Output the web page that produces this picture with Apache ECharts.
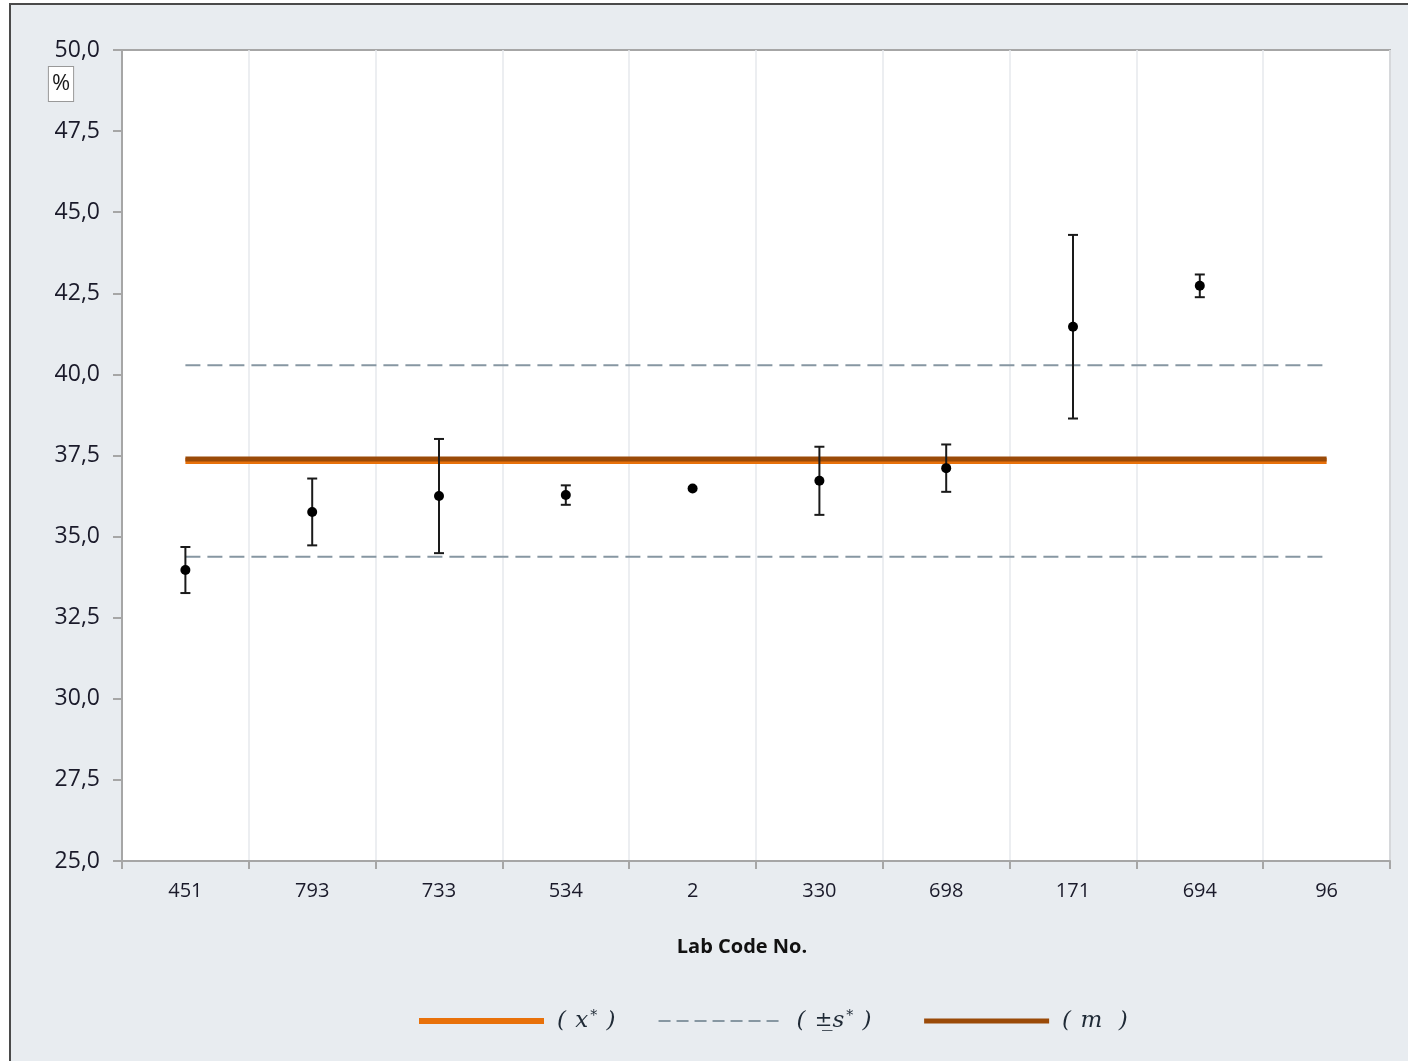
<!DOCTYPE html>
<html>
<head>
<meta charset="utf-8">
<title>Lab Code No.</title>
<script src="https://cdn.jsdelivr.net/npm/echarts@6/dist/echarts.min.js"></script>
<style>
  html, body { margin: 0; padding: 0; background: #ffffff; }
  #chart { width: 1408px; height: 1061px; }
</style>
</head>
<body>
<div id="chart"></div>
<script>
// Laboratory codes along the x axis
const labCodes = ['451', '793', '733', '534', '2', '330', '698', '171', '694', '96'];
// Reported mean per laboratory (%)
const labMeans = [33.97, 35.76, 36.25, 36.28, 36.48, 36.72, 37.11, 41.47, 42.73, null];
// Half-width of each laboratory's error bar (%)
const labErrors = [0.71, 1.03, 1.76, 0.30, null, 1.05, 0.73, 2.83, 0.35, null];
// Assigned value, robust standard deviation and mean of lab results
const assignedValue = 37.33;
const robustSd = 2.95;
const labMeanValue = 37.39;
// Y axis tick range
const yTicks = { min: 25, max: 50, step: 2.5 };

const fontSans = '"Open Sans", "Noto Sans", sans-serif';
const fontSerif = '"DejaVu Serif", "Liberation Serif", serif';
const textDark = '#1f2a36';

const constLine = v => labCodes.map(() => v);
const errorData = labCodes.map((c, i) =>
  labMeans[i] == null || labErrors[i] == null ? null
    : [i, labMeans[i] - labErrors[i], labMeans[i] + labErrors[i]]
).filter(d => d);

const chart = echarts.init(document.getElementById('chart'), null, { renderer: 'canvas' });

const option = {
  backgroundColor: '#ffffff',
  animation: false,
  graphic: [
    {
      type: 'rect', z: -100, silent: true,
      shape: { x: 10, y: 4, width: 1420, height: 1100 },
      style: { fill: '#E8ECF0', stroke: '#4a4a4a', lineWidth: 2 }
    },
    {
      type: 'text', z: 100,
      x: 61, y: 84,
      style: {
        text: '%', fontFamily: fontSans, fontSize: 22, fill: '#1a1a1a',
        align: 'center', verticalAlign: 'middle',
        backgroundColor: '#ffffff', borderColor: '#999999', borderWidth: 1,
        padding: [7, 3, 5, 3]
      }
    }
  ],
  grid: {
    left: 122, right: 18, top: 50, bottom: 200,
    show: true, backgroundColor: '#ffffff',
    borderColor: '#a6a6a6', borderWidth: 2
  },
  legend: {
    left: 416, top: 1009, padding: 0,
    itemWidth: 125, itemHeight: 6, itemGap: 42,
    data: [
      { name: 'x', itemStyle: { opacity: 0 }, lineStyle: { width: 6 } },
      { name: 's', itemStyle: { opacity: 0 }, lineStyle: { width: 2, type: [12, 6] } },
      { name: 'm', itemStyle: { opacity: 0 }, lineStyle: { width: 5 } }
    ],
    formatter: function (name) {
      if (name === 'x') return '{p|( }{i|x}{sup|*}{p| )}';
      if (name === 's') return '{p|( }{pm|±\u0332}{i|s}{sup|*}{p| )}{g|\u00a0}';
      return '{p|( }{i|m}{p|  )}';
    },
    textStyle: {
      padding: [0, 0, 0, 6],
      rich: {
        p: { fontFamily: fontSerif, fontSize: 23, fontStyle: 'italic', color: textDark, padding: [0, 2, 0, 2] },
        i: { fontFamily: fontSerif, fontSize: 23, fontStyle: 'italic', color: textDark },
        pm: { fontFamily: fontSerif, fontSize: 21, color: textDark },
        sup: { fontFamily: fontSerif, fontSize: 14, color: textDark, verticalAlign: 'top', padding: [0, 0, 10, 2] },
        g: { fontSize: 22, width: 22 }
      }
    }
  },
  xAxis: {
    type: 'category',
    data: labCodes,
    boundaryGap: true,
    name: 'Lab Code No.',
    nameLocation: 'middle',
    nameGap: 76,
    nameTextStyle: {
      fontFamily: fontSans, fontSize: 20, fontWeight: 'bold', color: '#111111',
      padding: [0, 28, 0, 0]
    },
    axisLine: { lineStyle: { color: '#a6a6a6', width: 2 } },
    axisTick: { show: true, alignWithLabel: false, length: 8, lineStyle: { color: '#a6a6a6', width: 2 } },
    axisLabel: { fontFamily: fontSans, fontSize: 20, color: '#1a1a2a', margin: 20 },
    splitLine: { show: true, lineStyle: { color: '#E6E9EC', width: 1.5 } }
  },
  yAxis: {
    type: 'value',
    min: yTicks.min, max: yTicks.max, interval: yTicks.step,
    axisLine: { show: true, lineStyle: { color: '#a6a6a6', width: 2 } },
    axisTick: { show: true, length: 9, lineStyle: { color: '#a6a6a6', width: 2 } },
    axisLabel: {
      fontFamily: fontSans, fontSize: 23, color: '#1a1a2a', margin: 22,
      formatter: v => v.toFixed(1).replace('.', ',')
    },
    splitLine: { show: false }
  },
  series: [
    {
      name: 's', type: 'line', data: constLine(assignedValue + robustSd),
      symbol: 'none', z: 2,
      lineStyle: { color: '#8797A2', width: 2, type: [15, 7] },
      itemStyle: { color: '#8797A2' }
    },
    {
      name: 's', type: 'line', data: constLine(assignedValue - robustSd),
      symbol: 'none', z: 2,
      lineStyle: { color: '#8797A2', width: 2, type: [15, 7] },
      itemStyle: { color: '#8797A2' }
    },
    {
      name: 'x', type: 'line', data: constLine(assignedValue),
      symbol: 'none', z: 3,
      lineStyle: { color: '#E8710A', width: 6 },
      itemStyle: { color: '#E8710A' }
    },
    {
      name: 'm', type: 'line', data: constLine(labMeanValue),
      symbol: 'none', z: 4,
      lineStyle: { color: '#9A4A08', width: 5 },
      itemStyle: { color: '#9A4A08' }
    },
    {
      name: 'error', type: 'custom', z: 5,
      data: errorData,
      encode: { x: 0, y: [1, 2] },
      renderItem: function (params, api) {
        const x = api.coord([api.value(0), api.value(1)])[0];
        const yLow = api.coord([api.value(0), api.value(1)])[1];
        const yHigh = api.coord([api.value(0), api.value(2)])[1];
        const cap = 5;
        const style = { stroke: '#1a1a1a', lineWidth: 2 };
        return {
          type: 'group',
          children: [
            { type: 'line', shape: { x1: x, y1: yLow, x2: x, y2: yHigh }, style },
            { type: 'line', shape: { x1: x - cap, y1: yLow, x2: x + cap, y2: yLow }, style },
            { type: 'line', shape: { x1: x - cap, y1: yHigh, x2: x + cap, y2: yHigh }, style }
          ]
        };
      }
    },
    {
      name: 'mean', type: 'scatter', z: 6,
      data: labMeans,
      symbol: 'circle', symbolSize: 10,
      itemStyle: { color: '#000000', opacity: 1 }
    }
  ]
};

chart.setOption(option);
</script>
</body>
</html>
